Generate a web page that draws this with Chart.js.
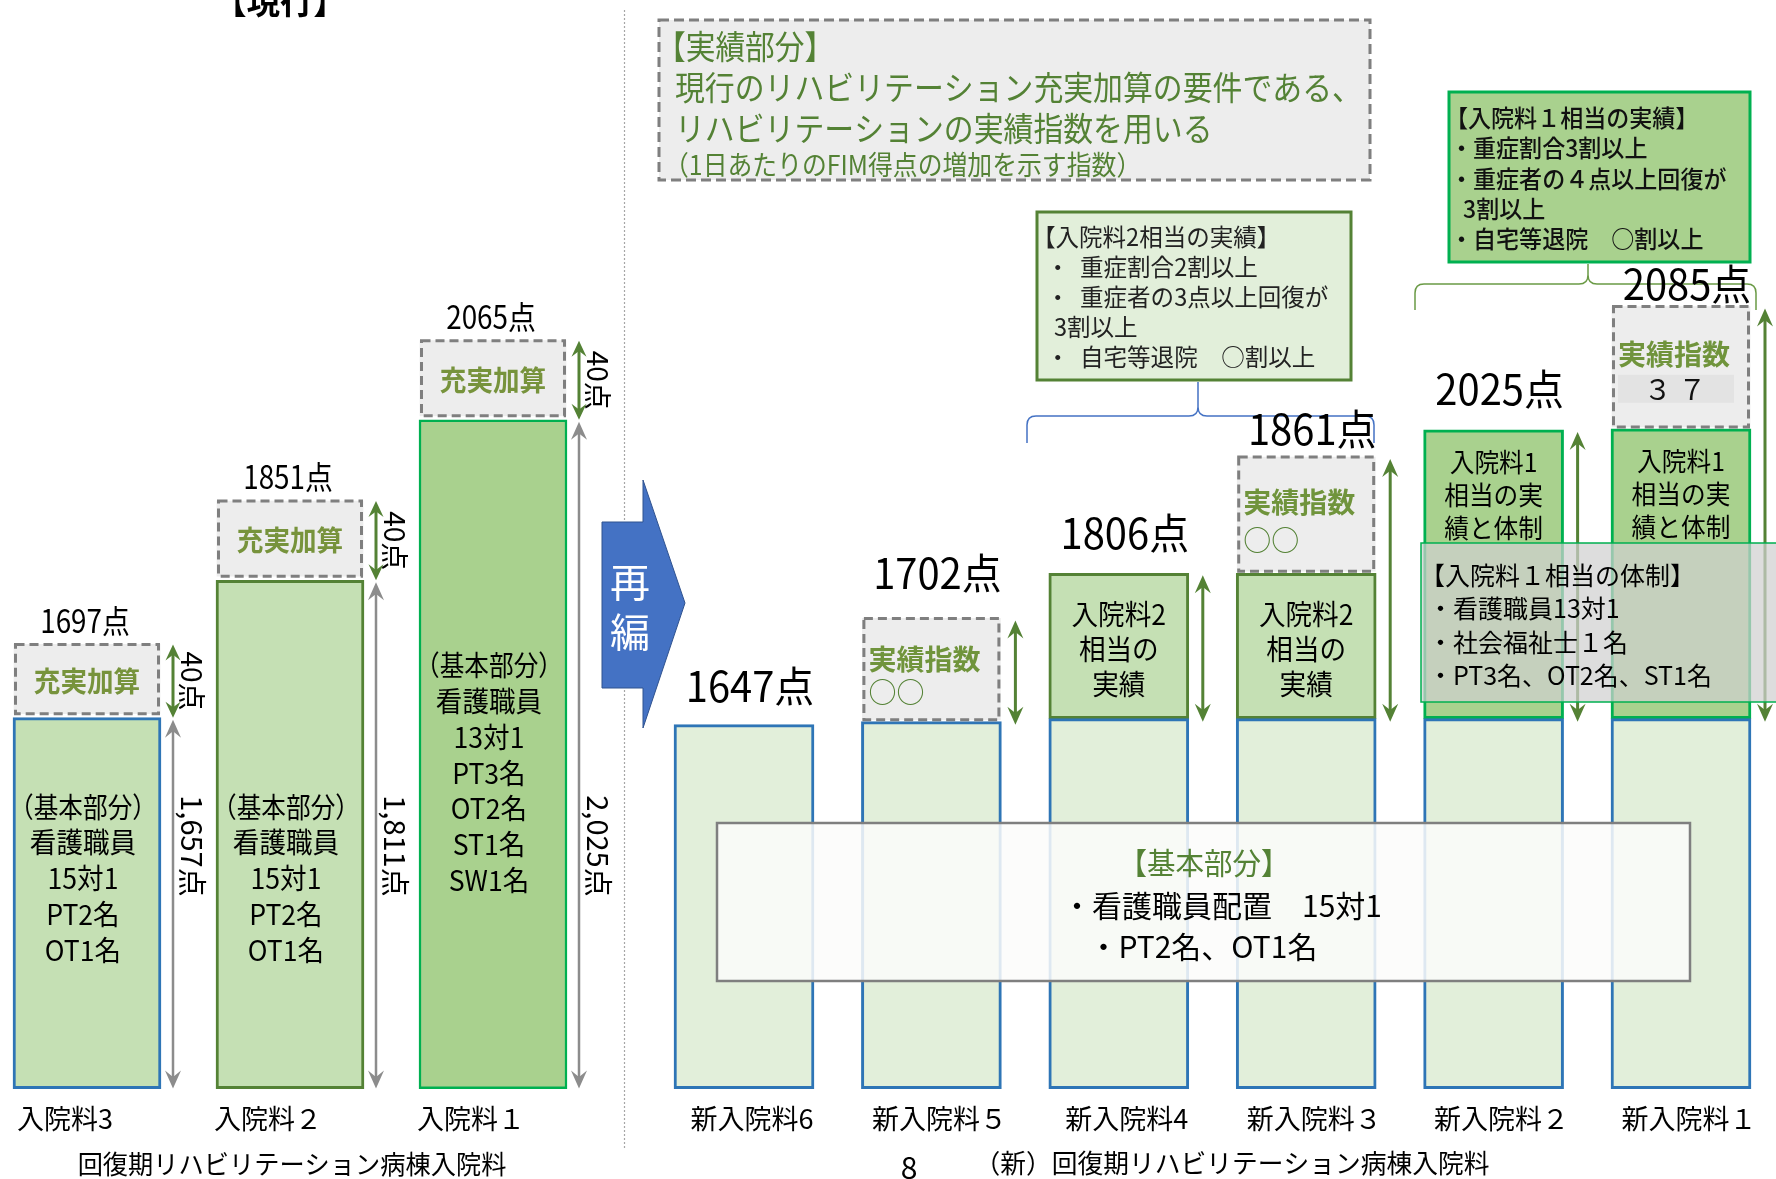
<!DOCTYPE html>
<html><head><meta charset="utf-8">
<script src="https://cdn.jsdelivr.net/npm/chart.js@4.4.1/dist/chart.umd.min.js"></script>
<style>
html,body{margin:0;padding:0;background:#fff;overflow:hidden}
#wrap{position:relative;width:1776px;height:1179px;background:#fff}
canvas{position:absolute;left:0;top:0}
</style></head><body>
<div id="wrap"><canvas id="cLeft" width="1776" height="1179"></canvas><canvas id="cRight" width="1776" height="1179"></canvas></div>
<script>
const FONT = '"Noto Sans CJK JP", "Noto Sans", sans-serif';

// ---------- 現行 (current) ----------
const currentCategories = ['入院料3', '入院料２', '入院料１'];
const currentTotalPoints = [1697, 1851, 2065];
const currentBasicPoints = [1657, 1811, 2025];
const currentBonusPoints = [40, 40, 40];
const currentBasicText = [
  ['（基本部分）', '看護職員', '15対1', 'PT2名', 'OT1名'],
  ['（基本部分）', '看護職員', '15対1', 'PT2名', 'OT1名'],
  ['（基本部分）', '看護職員', '13対1', 'PT3名', 'OT2名', 'ST1名', 'SW1名']
];
// schematic drawn heights (diagram is not to scale)
const currentBasicLevel = [370, 507, 667];
const currentBonusLevel = [443, 586, 746];

// ---------- 新 (new) ----------
const newCategories = ['新入院料6', '新入院料５', '新入院料4', '新入院料３', '新入院料２', '新入院料１'];
const newTotalPoints = [1647, 1702, 1806, 1861, 2025, 2085];
const newIndexValue = [null, '○○', null, '○○', null, '３ ７'];
const newTierText = [null, null, ['入院料2', '相当の', '実績'], ['入院料2', '相当の', '実績'], ['入院料1', '相当の実', '績と体制'], ['入院料1', '相当の実', '績と体制']];
// schematic drawn heights
const newBasicLevel = [363, 366, 369, 369, 369, 369];
const newTier2Level = [null, null, 514, 514, null, null];
const newTier1Level = [null, null, null, null, 657, 658];
const newIndexLevel = [null, 469, null, 630, null, 780];

// ---------- helpers ----------
function txt(ctx, s, x, y, o) {
  o = o || {};
  ctx.save();
  ctx.font = (o.weight || 'normal') + ' ' + o.size + 'px ' + FONT;
  ctx.fillStyle = o.color || '#000';
  ctx.textAlign = o.align || 'center';
  ctx.textBaseline = 'middle';
  ctx.translate(x, y);
  if (o.rot) ctx.rotate(o.rot);
  ctx.scale(o.sx || 1, 1);
  ctx.fillText(s, 0, 0);
  ctx.restore();
}
function box(ctx, x1, y1, x2, y2, fill, stroke, lw, dash) {
  ctx.save();
  if (fill) { ctx.fillStyle = fill; ctx.fillRect(x1, y1, x2 - x1, y2 - y1); }
  if (stroke) { ctx.strokeStyle = stroke; ctx.lineWidth = lw; ctx.setLineDash(dash || []); ctx.strokeRect(x1, y1, x2 - x1, y2 - y1); }
  ctx.restore();
}
function vArrow(ctx, x, y1, y2, color, lw, hl, hw) {
  ctx.save();
  ctx.strokeStyle = color; ctx.fillStyle = color; ctx.lineWidth = lw;
  ctx.beginPath(); ctx.moveTo(x, y1 + hl * 0.6); ctx.lineTo(x, y2 - hl * 0.6); ctx.stroke();
  ctx.beginPath(); ctx.moveTo(x, y1); ctx.lineTo(x - hw / 2, y1 + hl); ctx.lineTo(x, y1 + hl * 0.65); ctx.lineTo(x + hw / 2, y1 + hl); ctx.closePath(); ctx.fill();
  ctx.beginPath(); ctx.moveTo(x, y2); ctx.lineTo(x - hw / 2, y2 - hl); ctx.lineTo(x, y2 - hl * 0.65); ctx.lineTo(x + hw / 2, y2 - hl); ctx.closePath(); ctx.fill();
  ctx.restore();
}
function brace(ctx, x1, x2, yLine, yEnd, xTip, yTip, color, lw) {
  const r = 9;
  ctx.save();
  ctx.strokeStyle = color; ctx.lineWidth = lw;
  ctx.beginPath();
  ctx.moveTo(x1, yEnd); ctx.lineTo(x1, yLine + r); ctx.quadraticCurveTo(x1, yLine, x1 + r, yLine);
  ctx.lineTo(xTip - r, yLine); ctx.quadraticCurveTo(xTip, yLine, xTip, yLine - r); ctx.lineTo(xTip, yTip);
  ctx.moveTo(xTip, yLine - r); ctx.quadraticCurveTo(xTip, yLine, xTip + r, yLine);
  ctx.lineTo(x2 - r, yLine); ctx.quadraticCurveTo(x2, yLine, x2, yLine + r); ctx.lineTo(x2, yEnd);
  ctx.stroke();
  ctx.restore();
}
function geom(el) { return el.getProps(['x', 'y', 'base', 'width'], true); }
function dashedOutlines(chart) {
  const ctx = chart.ctx;
  chart.data.datasets.forEach((ds, di) => {
    if (!ds.dashed) return;
    chart.getDatasetMeta(di).data.forEach((el, j) => {
      if (ds.data[j] == null) return;
      const g = geom(el);
      box(ctx, g.x - g.width / 2 + 1.5, Math.min(g.y, g.base), g.x + g.width / 2 - 1.5, Math.max(g.y, g.base), null, '#7f7f7f', 3, [9, 5]);
    });
  });
}

// ---------- left plugin ----------
const leftDecor = {
  id: 'leftDecor',
  afterDatasetsDraw(chart) {
    const ctx = chart.ctx;
    const yS = chart.scales.y;
    dashedOutlines(chart);
    const basic = chart.getDatasetMeta(0).data;
    const bonus = chart.getDatasetMeta(1).data;
    const textTop = [281, 281, 422];
    basic.forEach((el, i) => {
      const p = geom(el), b = geom(bonus[i]);
      let ty = yS.getPixelForValue(textTop[i]);
      currentBasicText[i].forEach((s, k) => txt(ctx, s, p.x - 4, ty + k * 35.8, { size: 28, sx: k === 0 ? 0.88 : 0.95 }));
      txt(ctx, '充実加算', b.x, (b.y + b.base) / 2 + 2, { size: 28, weight: 'bold', color: '#77933c', sx: 0.95 });
      const ax = p.x + p.width / 2 + 12;
      vArrow(ctx, ax, b.y, p.y, '#548235', 3, 16, 15);
      vArrow(ctx, ax, p.y + 2, p.base, '#8c8c8c', 2.5, 18, 16);
      txt(ctx, currentBonusPoints[i] + '点', ax + 19, (b.y + p.y) / 2, { size: 28, rot: Math.PI / 2 });
      txt(ctx, currentBasicPoints[i].toLocaleString('en-US') + '点', ax + 19, yS.getPixelForValue(242), { size: 29, rot: Math.PI / 2 });
      txt(ctx, currentTotalPoints[i] + '点', p.x - 2, b.y - 24, { size: 32, sx: 0.87 });
    });
    txt(ctx, '【現行】', 280, 1, { size: 35, weight: 'bold', sx: 0.95 });
    txt(ctx, '回復期リハビリテーション病棟入院料', 292, 1164, { size: 26, sx: 0.97 });
  }
};

// ---------- right plugin ----------
const rightDecor = {
  id: 'rightDecor',
  beforeDatasetsDraw(chart) {
    const ctx = chart.ctx;
    ctx.save(); ctx.strokeStyle = '#a6a6a6'; ctx.lineWidth = 1.2; ctx.setLineDash([2, 2]);
    ctx.beginPath(); ctx.moveTo(624.5, 10); ctx.lineTo(624.5, 1150); ctx.stroke(); ctx.restore();
    ctx.save();
    ctx.beginPath();
    ctx.moveTo(602, 522); ctx.lineTo(643, 522); ctx.lineTo(643, 480); ctx.lineTo(685, 603);
    ctx.lineTo(643, 728); ctx.lineTo(643, 688); ctx.lineTo(602, 688); ctx.closePath();
    ctx.fillStyle = '#4472c4'; ctx.fill(); ctx.strokeStyle = '#2f528f'; ctx.lineWidth = 1; ctx.stroke();
    ctx.restore();
    txt(ctx, '再', 630, 582, { size: 40, color: '#fff' });
    txt(ctx, '編', 630, 632, { size: 40, color: '#fff' });
    box(ctx, 659, 20, 1370, 180, '#ededed', '#7f7f7f', 3, [10, 5]);
    const g = '#548235';
    txt(ctx, '【実績部分】', 656, 46, { size: 33, sx: 0.9, color: g, align: 'left' });
    txt(ctx, '現行のリハビリテーション充実加算の要件である、', 675, 87, { size: 33, sx: 0.905, color: g, align: 'left' });
    txt(ctx, 'リハビリテーションの実績指数を用いる', 675, 128, { size: 33, sx: 0.905, color: g, align: 'left' });
    txt(ctx, '（1日あたりのFIM得点の増加を示す指数）', 664, 165, { size: 27, sx: 0.92, color: g, align: 'left' });
    box(ctx, 1037, 212, 1351, 380, '#e2efda', '#548235', 3);
    const l2 = ['【入院料2相当の実績】', '・  重症割合2割以上', '・  重症者の3点以上回復が', '3割以上', '・  自宅等退院　○割以上'];
    const l2x = [1032, 1046, 1046, 1054, 1046];
    l2.forEach((s, k) => txt(ctx, s, l2x[k], 237 + k * 30, { size: 24, sx: 0.98, color: '#222', align: 'left' }));
    brace(ctx, 1027, 1374, 416, 443, 1198, 382, '#4472c4', 1.5);
    box(ctx, 1449, 92, 1750, 262, '#a9d18e', '#00b050', 3);
    const l1 = ['【入院料１相当の実績】', '・重症割合3割以上', '・重症者の４点以上回復が', '3割以上', '・自宅等退院　○割以上'];
    const l1x = [1445, 1450, 1450, 1463, 1450];
    l1.forEach((s, k) => txt(ctx, s, l1x[k], 118 + k * 30.3, { size: 24, sx: 0.96, color: '#111', align: 'left', weight: '500' }));
    brace(ctx, 1415, 1756, 284, 310, 1588, 264, '#6a9a45', 1.5);
  },
  afterDatasetsDraw(chart) {
    const ctx = chart.ctx;
    dashedOutlines(chart);
    const basic = chart.getDatasetMeta(0).data;
    const t2 = chart.getDatasetMeta(1).data;
    const t1 = chart.getDatasetMeta(2).data;
    const idx = chart.getDatasetMeta(3).data;
    const labelLift = [39, 45, 40, 28, 41, 23];
    basic.forEach((el, i) => {
      const p = geom(el);
      let topY = p.y;
      if (newTier2Level[i] != null) {
        const g2 = geom(t2[i]);
        const c = (g2.y + g2.base) / 2 + 3;
        newTierText[i].forEach((s, k) => txt(ctx, s, g2.x, c + (k - 1) * 35, { size: 28, sx: 0.95 }));
        topY = g2.y;
      }
      if (newTier1Level[i] != null) {
        const g1 = geom(t1[i]);
        newTierText[i].forEach((s, k) => txt(ctx, s, g1.x, g1.y + 32 + k * 33, { size: 26, sx: 0.95 }));
        topY = g1.y;
      }
      if (newIndexLevel[i] != null) {
        const gi = geom(idx[i]);
        const h = gi.base - gi.y, left = gi.x - gi.width / 2;
        txt(ctx, '実績指数', left + 6, gi.y + 0.40 * h, { size: 28, weight: 'bold', color: '#70943c', align: 'left', sx: 1 });
        const v = newIndexValue[i];
        if (v === '○○') {
          txt(ctx, v, left + 6, gi.y + 0.73 * h, { size: 28, color: '#548235', align: 'left' });
        } else {
          box(ctx, left + 6, gi.y + 0.567 * h, left + 122, gi.y + 0.8 * h, '#e3e3e3');
          txt(ctx, v, gi.x - 6, gi.y + 0.685 * h, { size: 28, color: '#111' });
        }
        topY = gi.y;
      }
      if (topY < p.y - 1) {
        vArrow(ctx, p.x + p.width / 2 + 14, topY + 2, p.y + 3, '#548235', 3, 18, 16);
      }
      txt(ctx, newTotalPoints[i] + '点', p.x + 6, topY - labelLift[i], { size: 42, sx: 0.95 });
    });
    box(ctx, 1421, 543, 1800, 702, 'rgba(208,208,208,0.72)', '#00b050', 1.5);
    const lt = ['【入院料１相当の体制】', '・看護職員13対1', '・社会福祉士１名', '・PT3名、OT2名、ST1名'];
    const ltx = [1420, 1428, 1428, 1428];
    lt.forEach((s, k) => txt(ctx, s, ltx[k], 575 + k * 33.5, { size: 25, sx: 1.0, align: 'left' }));
    box(ctx, 717, 823, 1690, 981, 'rgba(251,252,250,0.86)', '#7f7f7f', 2.5);
    txt(ctx, '【基本部分】', 1204, 863, { size: 30, color: '#548235', sx: 0.95 });
    txt(ctx, '・看護職員配置　15対1', 1222, 906, { size: 30, sx: 1.0 });
    txt(ctx, '・PT2名、OT1名', 1203, 947, { size: 30, sx: 1.0 });
    txt(ctx, '8', 909, 1168, { size: 30 });
    txt(ctx, '（新）回復期リハビリテーション病棟入院料', 1232, 1163, { size: 26, sx: 0.99 });
  }
};

function xAxis(offsetPx) {
  return {
    type: 'category', offset: false, stacked: true,
    grid: { display: false, drawTicks: false }, border: { display: false },
    ticks: { color: '#000', font: { family: FONT, size: 27, lineHeight: 1.2 }, padding: 14, labelOffset: offsetPx, maxRotation: 0, autoSkip: false }
  };
}
const yAxis = { type: 'linear', display: false, min: 0, max: 1000, stacked: false };
const common = {
  responsive: false, animation: false, devicePixelRatio: 1, events: [],
  plugins: { legend: { display: false }, tooltip: { enabled: false } }
};

new Chart(document.getElementById('cLeft'), {
  type: 'bar',
  data: {
    labels: currentCategories,
    datasets: [
      { data: currentBasicLevel.map(v => [0, v]), backgroundColor: ['#c5e0b4', '#c5e0b4', '#a9d18e'], borderColor: ['#2e75b6', '#548235', '#00b050'], borderWidth: [3, 3, 2.5], borderSkipped: false, barThickness: 148, stack: 's', clip: false },
      { data: currentBonusLevel.map((v, i) => [currentBasicLevel[i] + 4, v]), backgroundColor: '#ededed', borderWidth: 0, barThickness: 146, stack: 's', clip: false, dashed: true }
    ]
  },
  options: Object.assign({}, common, {
    layout: { padding: { left: 87, right: 1283, top: 86, bottom: 30 } },
    scales: { x: xAxis(-22), y: yAxis }
  }),
  plugins: [leftDecor]
});

function prevTop(i) {
  if (newTier1Level[i] != null) return newTier1Level[i];
  if (newTier2Level[i] != null) return newTier2Level[i];
  return newBasicLevel[i];
}
new Chart(document.getElementById('cRight'), {
  type: 'bar',
  data: {
    labels: newCategories,
    datasets: [
      { data: newBasicLevel.map(v => [0, v]), backgroundColor: '#e2efda', borderColor: '#2e75b6', borderWidth: 3, borderSkipped: false, barThickness: 140, stack: 's', clip: false },
      { data: newTier2Level.map((v, i) => v == null ? null : [newBasicLevel[i], v]), backgroundColor: '#c5e0b4', borderColor: '#548235', borderWidth: 3, borderSkipped: false, barThickness: 140, stack: 's', clip: false },
      { data: newTier1Level.map((v, i) => v == null ? null : [newBasicLevel[i], v]), backgroundColor: '#a9d18e', borderColor: '#00b050', borderWidth: 3, borderSkipped: false, barThickness: 140, stack: 's', clip: false },
      { data: newIndexLevel.map((v, i) => v == null ? null : [prevTop(i) + 2, v]), backgroundColor: '#ededed', borderWidth: 0, barThickness: 138, stack: 's', clip: false, dashed: true }
    ]
  },
  options: Object.assign({}, common, {
    layout: { padding: { left: 744, right: 95, top: 86, bottom: 30 } },
    scales: { x: xAxis(8), y: yAxis }
  }),
  plugins: [rightDecor]
});
</script>
</body></html>
